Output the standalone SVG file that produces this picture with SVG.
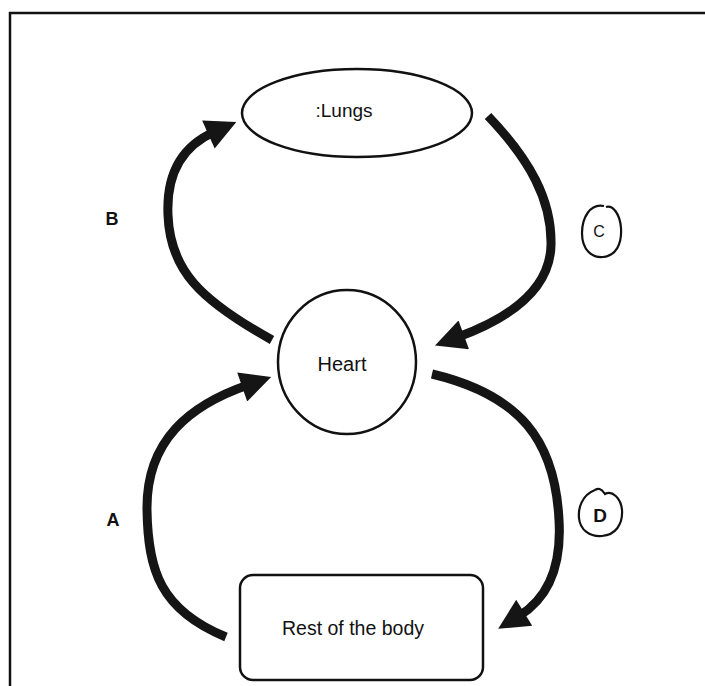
<svg xmlns="http://www.w3.org/2000/svg" width="705" height="686" viewBox="0 0 705 686">
<style>
.node{fill:#fff;stroke:#111;stroke-width:2.5}
.lbl{font-family:"Liberation Sans",Arial,sans-serif;fill:#111;text-anchor:middle}
.flow{fill:none;stroke:#151515;stroke-width:9;stroke-linecap:butt}
.tag{fill:none;stroke:#111;stroke-width:2.2}
</style>
<defs>
<marker id="ah" viewBox="0 0 10 10" refX="2" refY="5" markerWidth="3.7" markerHeight="3.4" orient="auto">
<path d="M0,0 L10,5 L0,10 Z" fill="#151515"/>
</marker>
</defs>
<rect width="705" height="686" fill="#fff"/>
<path d="M10,686 L10,13 L705,13" fill="none" stroke="#111" stroke-width="2.5"/>
<g id="connectors">
<path class="flow" marker-end="url(#ah)" d="M272,340 C 200,300 170,270 168,215 C 166,170 185,145 214,132"/>
<path class="flow" marker-end="url(#ah)" d="M488,116 C 530,160 552,200 551,245 C 550,290 510,318 458,337"/>
<path class="flow" marker-end="url(#ah)" d="M226,637 C 160,610 148,570 147,510 C 146,440 190,405 248,385"/>
<path class="flow" marker-end="url(#ah)" d="M432,374 C 520,395 555,440 559,520 C 562,570 545,600 519,616"/>
</g>
<g id="lungs">
<ellipse class="node" cx="357" cy="113" rx="115" ry="44"/>
<text class="lbl" x="344" y="117" font-size="19">:Lungs</text>
</g>
<g id="heart">
<ellipse class="node" cx="347" cy="362" rx="69" ry="72"/>
<text class="lbl" x="342" y="371" font-size="20">Heart</text>
</g>
<g id="body">
<rect class="node" x="240" y="575" width="243" height="105" rx="13"/>
<text class="lbl" x="353" y="635" font-size="19.5">Rest of the body</text>
</g>
<g id="labelB"><text class="lbl" x="112" y="225" font-size="18" font-weight="bold">B</text></g>
<g id="labelA"><text class="lbl" x="113" y="526" font-size="18" font-weight="bold">A</text></g>
<g id="labelC">
<path class="tag" d="M604,206 C 590,203 582,218 582,233 C 582,250 592,258 603,257 C 616,256 622,244 621,228 C 620,214 613,205 606,207"/>
<text class="lbl" x="599" y="237" font-size="16">C</text>
</g>
<g id="labelD">
<path class="tag" d="M595,490 C 582,495 578,508 579,518 C 580,530 590,537 602,536 C 615,535 623,525 622,510 C 621,498 612,490 605,494 C 601,488 598,488 595,490"/>
<text class="lbl" x="600" y="522" font-size="19" font-weight="bold">D</text>
</g>
</svg>
